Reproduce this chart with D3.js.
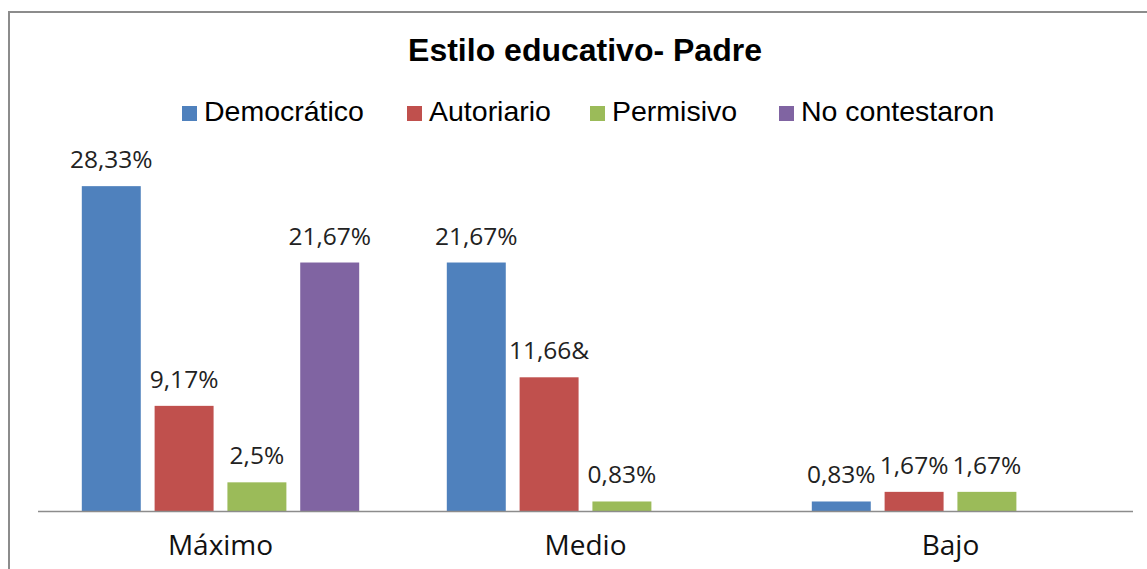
<!DOCTYPE html>
<html>
<head>
<meta charset="utf-8">
<script src="https://cdn.jsdelivr.net/npm/d3@7"></script>
<style>
  body { margin: 0; background: #fff; }
</style>
</head>
<body>
<div id="chart"></div>
<script>
// Estilo educativo - Padre
const categories = ["Máximo", "Medio", "Bajo"];
const seriesNames = ["Democrático", "Autoriario", "Permisivo", "No contestaron"];
const colors = ["#4f81bd", "#c0504d", "#9bbb59", "#8064a2"];
// values per series, in category order (null = no bar)
const democratico = [28.33, 21.67, 0.83];
const autoriario = [9.17, 11.66, 1.67];
const permisivo = [2.5, 0.83, 1.67];
const noContestaron = [21.67, null, null];
// labels as printed on the chart
const labelsDemocratico = ["28,33%", "21,67%", "0,83%"];
const labelsAutoriario = ["9,17%", "11,66&", "1,67%"];
const labelsPermisivo = ["2,5%", "0,83%", "1,67%"];
const labelsNoContestaron = ["21,67%", "", ""];

const values = [democratico, autoriario, permisivo, noContestaron];
const labels = [labelsDemocratico, labelsAutoriario, labelsPermisivo, labelsNoContestaron];

const width = 1147, height = 569;
const svg = d3.select("#chart").append("svg")
    .attr("width", width)
    .attr("height", height);

// chart frame
svg.append("rect")
    .attr("x", 9).attr("y", 12)
    .attr("width", 1160).attr("height", 580)
    .attr("fill", "#fff")
    .attr("stroke", "#8c8c8c")
    .attr("stroke-width", 2);

svg.append("text")
    .attr("x", 585).attr("y", 61)
    .attr("text-anchor", "middle")
    .attr("font-family", "Liberation Sans, Arial, sans-serif")
    .attr("font-weight", "bold")
    .attr("font-size", 32)
    .text("Estilo educativo- Padre");

// legend
const legendX = [182, 407, 590, 779];
const legend = svg.append("g");
seriesNames.forEach((name, i) => {
    legend.append("rect")
        .attr("x", legendX[i]).attr("y", 106)
        .attr("width", 15).attr("height", 15)
        .attr("fill", colors[i]);
    legend.append("text")
        .attr("x", legendX[i] + 22).attr("y", 121)
        .attr("font-family", "Liberation Sans, Arial, sans-serif")
        .attr("font-size", 28.5)
        .text(name);
});

const x0 = d3.scaleBand()
    .domain(categories)
    .range([38, 1133])
    .paddingInner(0.24)
    .paddingOuter(0.12);

const x1 = d3.scaleBand()
    .domain(d3.range(seriesNames.length))
    .range([0, x0.bandwidth()])
    .paddingInner(0.19);

const y = d3.scaleLinear()
    .domain([0, 30])
    .range([511, 167]);

const groups = svg.selectAll("g.cat")
    .data(categories)
    .enter().append("g")
    .attr("class", "cat")
    .attr("transform", d => `translate(${x0(d)},0)`);

groups.each(function (cat, ci) {
    const g = d3.select(this);
    seriesNames.forEach((s, si) => {
        const v = values[si][ci];
        if (v == null) return;
        g.append("rect")
            .attr("x", x1(si))
            .attr("y", y(v))
            .attr("width", x1.bandwidth())
            .attr("height", y(0) - y(v))
            .attr("fill", colors[si]);
        g.append("text")
            .attr("x", x1(si) + x1.bandwidth() / 2)
            .attr("y", y(v) - 18)
            .attr("text-anchor", "middle")
            .attr("font-family", "Open Sans, Noto Sans, sans-serif")
            .attr("font-size", 24.5)
            .attr("fill", "#222")
            .text(labels[si][ci]);
    });
});

// category axis
const xAxis = svg.append("g")
    .attr("transform", `translate(0,${y(0)})`)
    .call(d3.axisBottom(x0).tickSize(0).tickSizeOuter(0));
xAxis.select(".domain")
    .attr("stroke", "#8c8c8c")
    .attr("stroke-width", 1.5)
    .attr("d", "M38,0.5H1133");
xAxis.selectAll("text")
    .attr("y", 44)
    .attr("dy", 0)
    .attr("font-family", "Open Sans, Noto Sans, sans-serif")
    .attr("font-size", 28)
    .attr("fill", "#111");
</script>
</body>
</html>
